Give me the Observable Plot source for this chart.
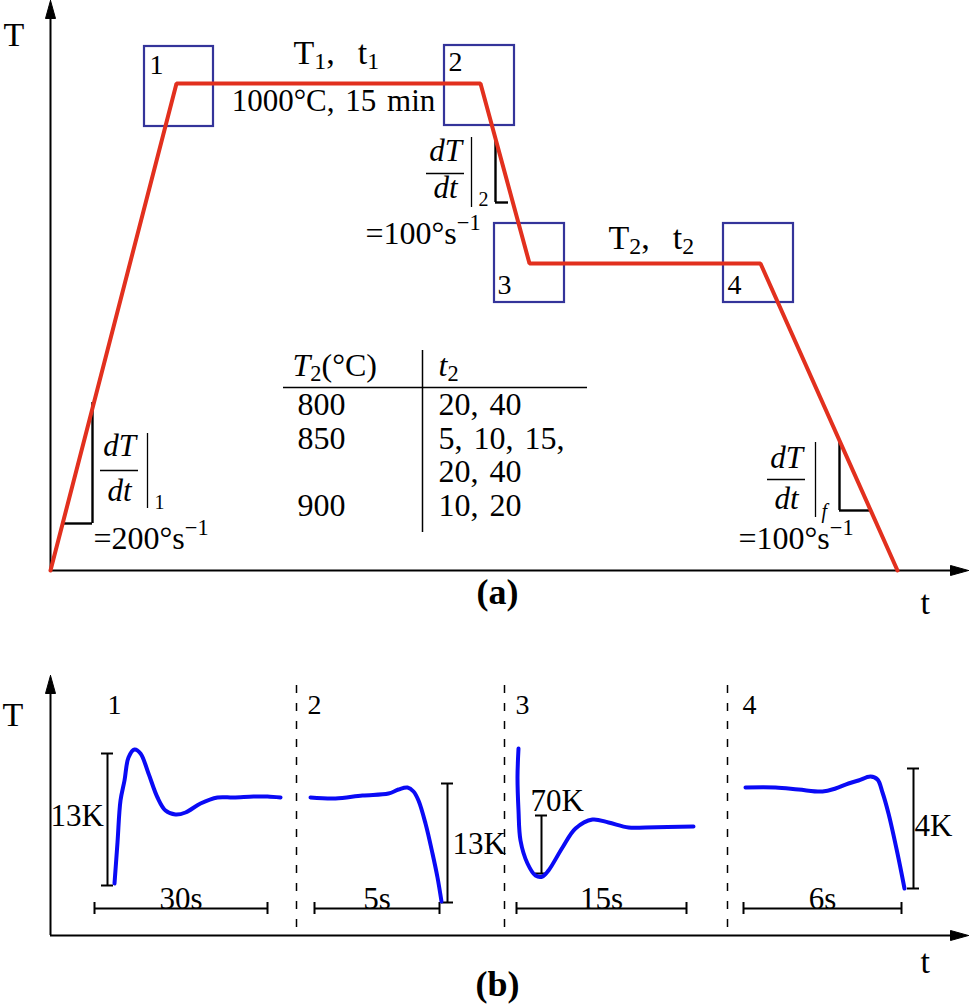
<!DOCTYPE html>
<html><head><meta charset="utf-8">
<script src="https://cdn.jsdelivr.net/npm/d3@7"></script>
<script src="https://cdn.jsdelivr.net/npm/@observablehq/plot@0.6"></script>
<style>body{margin:0;background:#fff} #chart svg{display:block} #chart svg text{word-spacing:3px}</style>
</head><body><div id="chart"></div>
<script>
// ---------------- data (schematic units) ----------------
// (a) heat-treatment profile: time vs temperature (schematic)
const profileTime = [50, 176, 480, 529, 760, 897];
const profileTemp = [570, 83, 83, 263, 263, 570];

// inspection windows 1-4 on the profile
const boxLabels = ["1", "2", "3", "4"];
const boxLeft   = [144, 444, 494, 723];
const boxRight  = [213, 514, 564, 793];
const boxTop    = [46, 45, 223, 223];
const boxBottom = [126, 125, 302, 302];
const boxLabelX = [149, 448, 497, 727];
const boxLabelY = [73, 70, 293, 293];

// slope triangles (dT/dt)
const slopeV_x  = [92, 495, 839];
const slopeV_y1 = [402, 138, 441];
const slopeV_y2 = [523, 202, 510];
const slopeH_x1 = [62, 495, 839];
const slopeH_x2 = [92, 508, 870];
const slopeH_y  = [523, 202, 510];

// dT/dt annotations
const rateFracX = [119, 445, 786];
const rateNumY  = [455, 160, 467];
const rateDenY  = [500, 197, 508];
const rateBarY  = [470, 173, 479];
const rateBarHalf = 19;
const rateEvalX  = [147, 471, 815];
const rateEvalY1 = [433, 137, 442];
const rateEvalY2 = [508, 207, 517];
const rateSub    = ["1", "2", "*f*"];
const rateSubX   = [154, 478, 821];
const rateSubY   = [508, 205, 517];
const rateValues = ["=200°s^{−1}", "=100°s^{−1}", "=100°s^{−1}"];
const rateValX   = [93, 365, 738];
const rateValY   = [548, 243, 548];

// table of T2 / t2
const tableHeader  = ["*T*_{2}(°C)", "*t*_{2}"];
const tableT2      = ["800", "850", "", "900"];
const tableT2Times = ["20, 40", "5, 10, 15,", "20, 40", "10, 20"];
const tableRowY    = [414, 448, 481, 515];

// (b) measured temperature at windows 1-4 (schematic traces)
const trace1X = [114, 117, 120, 124, 128, 134, 140, 148, 157, 165, 175, 185, 200, 217, 233, 253, 267, 280];
const trace1Y = [883, 842, 800, 780, 757, 749, 753, 773, 797, 810, 814, 812, 803, 797, 797, 796, 796, 797];
const trace2X = [310, 335, 362, 388, 398, 407, 413, 418, 425, 432, 437, 441];
const trace2Y = [797, 798, 795, 793, 789, 787, 791, 800, 823, 853, 877, 901];
const trace3X = [518, 517, 518, 520, 527, 535, 542, 548, 562, 575, 592, 608, 628, 645, 693];
const trace3Y = [748, 777, 810, 840, 863, 875, 876, 870, 847, 828, 819, 822, 827, 827, 826];
const trace4X = [745, 775, 798, 822, 835, 848, 858, 870, 877, 882, 888, 897, 904];
const trace4Y = [787, 787, 789, 791, 788, 783, 780, 776, 779, 792, 813, 853, 888];

const panelBLabels = ["1", "2", "3", "4"];
const panelBLabelX = [107, 307, 515, 742];
const separatorX = [296, 504, 727];

// amplitude bars
const ampLabels = ["13K", "13K", "70K", "4K"];
const ampX      = [107, 447, 541, 913];
const ampTop    = [753, 783, 815, 768];
const ampBottom = [885, 902, 873, 888];
const ampLabelX = [50, 452, 530, 914];
const ampLabelY = [825, 853, 810, 835];

// duration bars
const durLabels = ["30s", "5s", "15s", "6s"];
const durLeft   = [94, 314, 516, 743];
const durRight  = [267, 439, 686, 901];
const durY = 908;

// axes
const axisA = {x0: 50, y0: 570, xEnd: 968, yEnd: 0};
const axisB = {x0: 50, y0: 935, xEnd: 968, yEnd: 675};

// ---------------- drawing ----------------
const serif = "Liberation Serif, Times New Roman, serif";
const red = "#e2301e", boxBlue = "#34349a", traceBlue = "#0a0af5";
const idx = a => d3.range(a.length);

function arrowUp(x, tip) { return [[x, tip], [x - 5, tip + 18], [x + 5, tip + 18], [x, tip]]; }
function arrowRight(tip, y) { return [[tip, y], [tip - 18, y - 5], [tip - 18, y + 5], [tip, y]]; }
const heads = [arrowUp(axisA.x0, axisA.yEnd), arrowRight(axisA.xEnd, axisA.y0),
               arrowUp(axisB.x0, axisB.yEnd), arrowRight(axisB.xEnd, axisB.y0)];

const textBase = {fontFamily: serif, lineAnchor: "bottom", fill: "black"};

const traces = [[trace1X, trace1Y], [trace2X, trace2Y], [trace3X, trace3Y], [trace4X, trace4Y]];

const svg = Plot.plot({
  width: 969, height: 1007, margin: 0,
  x: {domain: [0, 969], range: [0, 969], axis: null},
  y: {domain: [0, 1007], range: [0, 1007], axis: null},
  style: {background: "white"},
  marks: [
    // axes
    Plot.ruleY([axisA.y0], {x1: axisA.x0, x2: axisA.xEnd - 10, stroke: "black", strokeWidth: 2}),
    Plot.ruleX([axisA.x0], {y1: axisA.y0, y2: axisA.yEnd + 10, stroke: "black", strokeWidth: 2}),
    Plot.ruleY([axisB.y0], {x1: axisB.x0, x2: axisB.xEnd - 10, stroke: "black", strokeWidth: 2}),
    Plot.ruleX([axisB.x0], {y1: axisB.y0, y2: axisB.yEnd + 10, stroke: "black", strokeWidth: 2}),
    ...heads.map(h => Plot.line(h, {fill: "black", stroke: "black", strokeWidth: 1})),

    // inspection boxes
    Plot.rect(boxLabels, {x1: boxLeft, x2: boxRight, y1: boxTop, y2: boxBottom, fill: "none", stroke: boxBlue, strokeWidth: 2.2}),

    // slope triangles
    Plot.ruleX(idx(slopeV_x), {x: slopeV_x, y1: slopeV_y1, y2: slopeV_y2, stroke: "black", strokeWidth: 2.4}),
    Plot.ruleY(idx(slopeH_y), {y: slopeH_y, x1: slopeH_x1, x2: slopeH_x2, stroke: "black", strokeWidth: 2.4}),

    // profile
    Plot.line(profileTime, {x: profileTime, y: profileTemp, stroke: red, strokeWidth: 4, strokeLinejoin: "miter"}),

    // fraction bars and evaluation bars
    Plot.ruleY(idx(rateBarY), {y: rateBarY, x1: rateFracX.map(x => x - rateBarHalf), x2: rateFracX.map(x => x + rateBarHalf), stroke: "black", strokeWidth: 1.3}),
    Plot.ruleX(idx(rateEvalX), {x: rateEvalX, y1: rateEvalY1, y2: rateEvalY2, stroke: "black", strokeWidth: 1.3}),

    // table lines
    Plot.ruleY([387], {x1: 283, x2: 587, stroke: "black", strokeWidth: 1.5}),
    Plot.ruleX([422], {y1: 350, y2: 532, stroke: "black", strokeWidth: 1.5}),

    // panel (b) separators
    Plot.ruleX(separatorX, {y1: 685, y2: axisB.y0, stroke: "black", strokeWidth: 1.5, strokeDasharray: "8,10"}),

    // amplitude bars
    Plot.ruleX(ampLabels, {x: ampX, y1: ampTop, y2: ampBottom, stroke: "black", strokeWidth: 2}),
    Plot.ruleY(ampLabels, {y: ampTop, x1: ampX.map(x => x - 6), x2: ampX.map(x => x + 6), stroke: "black", strokeWidth: 2}),
    Plot.ruleY(ampLabels, {y: ampBottom, x1: ampX.map(x => x - 6), x2: ampX.map(x => x + 6), stroke: "black", strokeWidth: 2}),

    // duration bars
    Plot.ruleY(durLabels, {y: durY, x1: durLeft, x2: durRight, stroke: "black", strokeWidth: 2}),
    Plot.ruleX(durLabels, {x: durLeft, y1: durY - 6, y2: durY + 6, stroke: "black", strokeWidth: 2}),
    Plot.ruleX(durLabels, {x: durRight, y1: durY - 6, y2: durY + 6, stroke: "black", strokeWidth: 2}),

    // traces
    ...traces.map(([tx, ty]) => Plot.line(tx, {x: tx, y: ty, stroke: traceBlue, strokeWidth: 4, curve: "catmull-rom", strokeLinecap: "round"})),

    // ---------- text ----------
    Plot.text(["T", "T_{1},\u00a0 t_{1}", "T_{2},\u00a0 t_{2}", "t", "T", "t"], {...textBase, x: [3, 293, 608, 920, 2, 920], y: [45, 63, 248, 613, 725, 972], textAnchor: "start", fontSize: 34}),
    Plot.text(["1000°C, 15 min"], {...textBase, x: [333], y: [110], textAnchor: "middle", fontSize: 31}),
    Plot.text(boxLabels, {...textBase, x: boxLabelX, y: boxLabelY, textAnchor: "start", fontSize: 28}),
    Plot.text(panelBLabels, {...textBase, x: panelBLabelX, y: 713, textAnchor: "start", fontSize: 28}),
    Plot.text(rateFracX.map(() => "dT"), {...textBase, x: rateFracX, y: rateNumY, textAnchor: "middle", fontSize: 31, fontStyle: "italic"}),
    Plot.text(rateFracX.map(() => "dt"), {...textBase, x: rateFracX, y: rateDenY, textAnchor: "middle", fontSize: 31, fontStyle: "italic"}),
    Plot.text(rateSub, {...textBase, x: rateSubX, y: rateSubY, textAnchor: "start", fontSize: 20}),
    Plot.text(rateValues, {...textBase, x: rateValX, y: rateValY, textAnchor: "start", fontSize: 32}),
    Plot.text(tableHeader, {...textBase, x: [292, 438], y: 375, textAnchor: "start", fontSize: 32}),
    Plot.text(tableT2, {...textBase, x: 297, y: tableRowY, textAnchor: "start", fontSize: 32}),
    Plot.text(tableT2Times, {...textBase, x: 438, y: tableRowY, textAnchor: "start", fontSize: 32}),
    Plot.text(ampLabels, {...textBase, x: ampLabelX, y: ampLabelY, textAnchor: "start", fontSize: 31}),
    Plot.text(durLabels, {...textBase, x: durLeft.map((l, i) => (l + durRight[i]) / 2), y: durY, textAnchor: "middle", fontSize: 31}),
    Plot.text(["(a)", "(b)"], {...textBase, x: 497, y: [603, 995], textAnchor: "middle", fontSize: 36, fontWeight: "bold"})
  ]
});
document.getElementById("chart").append(svg);

// rich text: _{sub}, ^{sup}, *italic*
svg.querySelectorAll("text").forEach(t => {
  const s = t.textContent;
  if (!/[_^*]/.test(s)) return;
  const fs = parseFloat(getComputedStyle(t).fontSize) || 30;
  const re = /_\{([^}]*)\}|\^\{([^}]*)\}|(\*)|([^_^*]+)/g;
  t.textContent = "";
  let italic = false, shift = 0, m;
  while ((m = re.exec(s))) {
    if (m[3]) { italic = !italic; continue; }
    const ts = document.createElementNS("http://www.w3.org/2000/svg", "tspan");
    let target = 0, size = null, str;
    if (m[1] !== undefined) { target = 0.16 * fs; size = 0.7 * fs; str = m[1]; }
    else if (m[2] !== undefined) { target = -0.42 * fs; size = 0.7 * fs; str = m[2]; }
    else { str = m[4]; }
    const dy = target - shift; shift = target;
    if (dy) ts.setAttribute("dy", dy);
    if (size) ts.setAttribute("font-size", size);
    if (italic) ts.setAttribute("font-style", "italic");
    ts.textContent = str;
    t.appendChild(ts);
  }
});
</script>
</body></html>
